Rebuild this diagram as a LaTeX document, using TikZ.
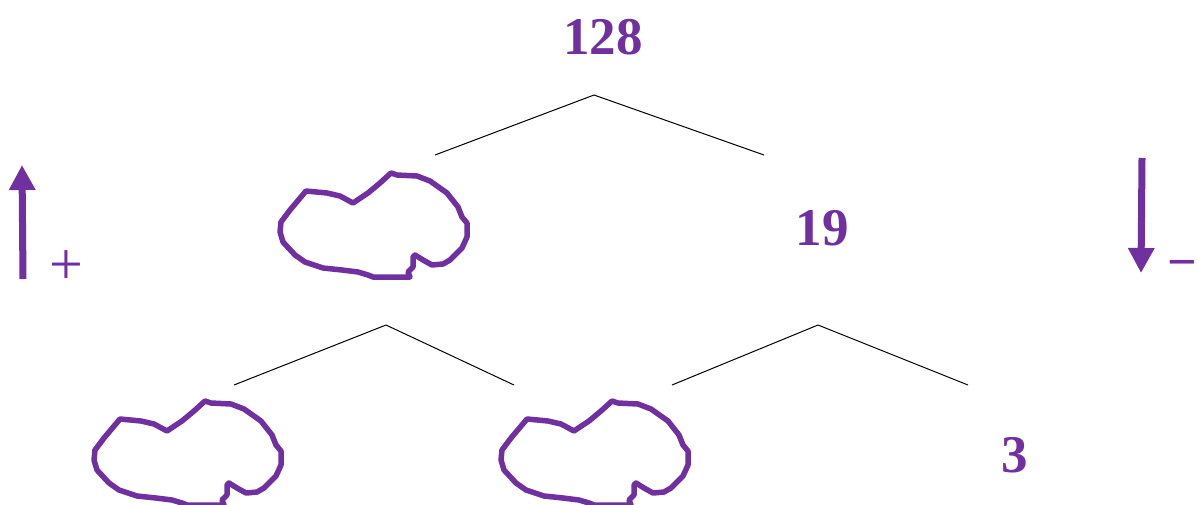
\documentclass[tikz,border=0pt]{standalone}
\usepackage{fontspec}
\setmainfont{Liberation Serif}
\usetikzlibrary{arrows.meta}
\definecolor{pur}{HTML}{7030A0}
\tikzset{
  num/.style={text=pur, font=\fontsize{53}{60}\selectfont\bfseries, inner sep=0pt},
  sign/.style={text=pur, font=\fontsize{60}{66}\selectfont, inner sep=0pt},
  branch/.style={black, line width=1pt},
  bigarrow/.style={pur, line width=7pt, -{Triangle[width=25pt,length=25pt]}},
  blob/.style={pur, line width=5.5pt, line join=round, line cap=round},
  pics/cloud/.style={code={
    \draw[blob] (306,191) -- (327,193) -- (340,196) -- (353,203) -- (368,193) -- (380,183)
      -- (391,173) -- (397,175) -- (417,176) -- (430,181) -- (447,193) -- (458,207)
      -- (462,217) -- (467,223) -- (467,237) -- (462,248) -- (450,260) -- (443,264)
      -- (432,265) -- (423,260) -- (415,255) -- (413,257) -- (413,267) -- (408,272)
      -- (410,277) -- (397,277) -- (373,277) -- (368,275) -- (358,272) -- (342,270)
      -- (323,268) -- (305,262) -- (295,255) -- (283,242) -- (280,232) -- (281,222)
      -- (290,210) -- cycle;
  }}
}
\begin{document}
\begin{tikzpicture}[x=1pt,y=-1pt]
\useasboundingbox (0,0) rectangle (1198,504);
% numbers
\node[num] (n128) at (603,37) {128};
\node[num] (n19) at (822,228) {19};
\node[num] (n3) at (1015,455) {3};
% clouds
\pic (c1) at (0,0) {cloud};
\pic (c2) at (-186,228) {cloud};
\pic (c3) at (221,228) {cloud};
% branches
\coordinate (a1) at (594,95);
\coordinate (l1) at (435,155);
\coordinate (r1) at (764,155);
\coordinate (a2) at (386,325);
\coordinate (l2) at (234,385);
\coordinate (r2) at (514,385);
\coordinate (a3) at (818,325);
\coordinate (l3) at (672,385);
\coordinate (r3) at (968,385);
\draw[branch] (l1) -- (a1) -- (r1);
\draw[branch] (l2) -- (a2) -- (r2);
\draw[branch] (l3) -- (a3) -- (r3);
% arrows
\coordinate (up0) at (23,279);
\coordinate (up1) at (22,165);
\coordinate (dn0) at (1142,158);
\coordinate (dn1) at (1141,273);
\draw[bigarrow] (up0) -- (up1);
\draw[bigarrow] (dn0) -- (dn1);
\node[sign] (plus) at (66,268) {+};
\node[sign, font=\fontsize{52}{58}\selectfont\bfseries] (minus) at (1182,270) {\char"2212};
\end{tikzpicture}
\end{document}
